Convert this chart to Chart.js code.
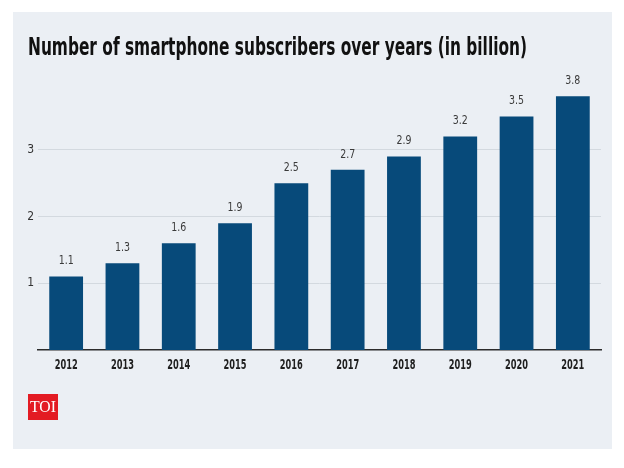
<!DOCTYPE html>
<html>
<head>
<meta charset="utf-8">
<script src="https://cdn.jsdelivr.net/npm/chart.js@4/dist/chart.umd.min.js"></script>
<style>
  html, body { margin: 0; padding: 0; background: #fff; }
  #wrap { width: 624px; height: 468px; }
</style>
</head>
<body>
<div id="wrap"><canvas id="chart" width="624" height="468"></canvas></div>
<script>
const years = ['2012', '2013', '2014', '2015', '2016', '2017', '2018', '2019', '2020', '2021'];
const subscribers = [1.1, 1.3, 1.6, 1.9, 2.5, 2.7, 2.9, 3.2, 3.5, 3.8];
const yTicks = [1, 2, 3];
const titleText = 'Number of smartphone subscribers over years (in billion)';

const barColor = '#074a7a';
const panelColor = '#ebeff4';
const condensed = '"DejaVu Sans Condensed", "Liberation Sans Narrow", sans-serif';

// draw text squeezed to a given width (the original uses a condensed face)
function squeezeText(ctx, text, x, y, maxW, align) {
    const w = ctx.measureText(text).width;
    const sx = w > maxW ? maxW / w : 1;
    ctx.save();
    ctx.translate(x, y);
    ctx.scale(sx, 1);
    ctx.textAlign = align;
    ctx.fillText(text, 0, 0);
    ctx.restore();
}

const panelPlugin = {
    id: 'panel',
    beforeDraw(chart) {
        const ctx = chart.ctx;
        ctx.save();
        ctx.fillStyle = panelColor;
        ctx.fillRect(13, 12, 599, 437);
        ctx.restore();
    },
    afterDraw(chart) {
        const ctx = chart.ctx;
        ctx.save();
        // title
        ctx.fillStyle = '#111';
        ctx.font = 'bold 25px ' + condensed;
        ctx.textBaseline = 'alphabetic';
        squeezeText(ctx, titleText, 28, 55, 499, 'left');
        // x labels, squeezed like the original face
        const xs = chart.scales.x;
        ctx.fillStyle = '#1e1e1e';
        ctx.font = 'bold 14px ' + condensed;
        ctx.textBaseline = 'middle';
        years.forEach((y, i) => {
            squeezeText(ctx, y, xs.getPixelForValue(i), xs.top + 15, 23, 'center');
        });
        // TOI logo
        ctx.fillStyle = '#e31b23';
        ctx.fillRect(28, 394, 30, 26);
        ctx.fillStyle = '#fff';
        ctx.font = '16px "Liberation Serif", serif';
        ctx.textBaseline = 'middle';
        squeezeText(ctx, 'TOI', 43, 408, 26, 'center');
        ctx.restore();
    }
};

const valueLabels = {
    id: 'valueLabels',
    afterDatasetsDraw(chart) {
        const ctx = chart.ctx;
        const meta = chart.getDatasetMeta(0);
        ctx.save();
        ctx.fillStyle = '#3a3a3a';
        ctx.font = '13px ' + condensed;
        ctx.textBaseline = 'bottom';
        meta.data.forEach((bar, i) => {
            squeezeText(ctx, subscribers[i].toFixed(1), bar.x, bar.y - 9, 15, 'center');
        });
        ctx.restore();
    }
};

new Chart(document.getElementById('chart'), {
    type: 'bar',
    data: {
        labels: years,
        datasets: [{
            data: subscribers,
            backgroundColor: barColor,
            categoryPercentage: 1.0,
            barPercentage: 0.6
        }]
    },
    options: {
        responsive: false,
        animation: false,
        devicePixelRatio: 1,
        layout: { padding: { top: 83, right: 23, bottom: 88, left: 0 } },
        plugins: {
            legend: { display: false },
            tooltip: { enabled: false }
        },
        scales: {
            x: {
                grid: { display: false },
                border: { display: true, color: '#2b2b2b', width: 1.5 },
                afterFit(scale) { scale.height = 30; },
                ticks: { display: false }
            },
            y: {
                min: 0,
                max: 4,
                afterFit(scale) { scale.width = 38; },
                afterBuildTicks(scale) {
                    scale.ticks = yTicks.map(v => ({ value: v }));
                },
                border: { display: false },
                grid: { color: '#d3d9df', lineWidth: 1, drawTicks: false },
                ticks: {
                    padding: 4,
                    color: '#333',
                    font: { family: condensed, size: 12 }
                }
            }
        }
    },
    plugins: [panelPlugin, valueLabels]
});
</script>
</body>
</html>
